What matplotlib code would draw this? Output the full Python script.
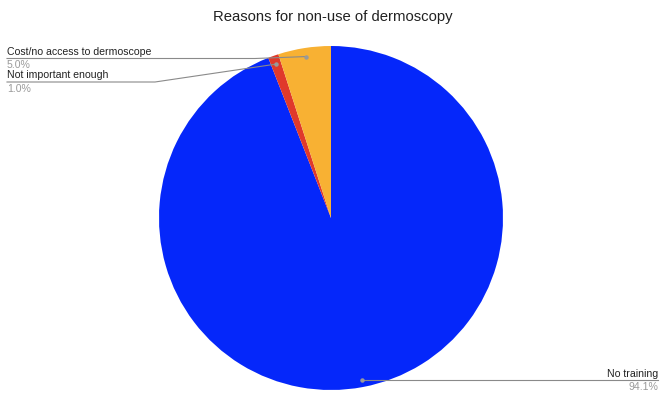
import numpy as np
import matplotlib
matplotlib.use("Agg")
import matplotlib.pyplot as plt

# data (counts -> 94.1 / 1.0 / 5.0 %)
labels = ["No training", "Not important enough", "Cost/no access to dermoscope"]
counts = [95, 1, 5]
colors = ["#0527fa", "#e0392b", "#f8b133"]

W, H = 666, 409
plt.rcParams['font.family'] = ['Liberation Sans', 'DejaVu Sans']

fig = plt.figure(figsize=(W / 100, H / 100), dpi=100)

def fx(x):
    return x / W

def fy(y):
    return 1 - y / H

# pie axes: centre (331, 218), radius 172 px
cx, cy, r = 331, 218, 172
ax = fig.add_axes([fx(cx - r), fy(cy + r), 2 * r / W, 2 * r / H])
wedges, _ = ax.pie(counts, colors=colors, startangle=90, counterclock=False,
                   radius=1, wedgeprops=dict(linewidth=0))
ax.set_xlim(-1, 1)
ax.set_ylim(-1, 1)
ax.set_aspect("equal")
ax.axis("off")

fig.text(0.5, fy(17), "Reasons for non-use of dermoscopy", ha="center", va="center",
         fontsize=10.7, color="#222222")

total = sum(counts)
pcts = [100 * c / total for c in counts]

def anchor(w, rr=0.95):
    ang = np.deg2rad((w.theta1 + w.theta2) / 2)
    p = ax.transData.transform((rr * np.cos(ang), rr * np.sin(ang)))
    return fig.transFigure.inverted().transform(p)

line_kw = dict(color="#8a8a8a", linewidth=0.8, transform=fig.transFigure)
dot_kw = dict(color="#9a9a9a", markersize=2.2, transform=fig.transFigure)

# left labels: (index, line y, elbow x, text y, pct y)
left = [(2, 58.5, 255, 52, 65), (1, 82, 155, 75.5, 88.5)]
for i, ly, ex, ty, py in left:
    ax_, ay_ = anchor(wedges[i])
    fig.add_artist(plt.Line2D([fx(7), fx(ex), ax_], [fy(ly), fy(ly), ay_], **line_kw))
    fig.add_artist(plt.Line2D([ax_], [ay_], marker="o", **dot_kw))
    fig.text(fx(7), fy(ty), labels[i], ha="left", va="center", fontsize=7.6, color="#222222")
    fig.text(fx(7), fy(py), f"{pcts[i]:.1f}%", ha="left", va="center", fontsize=7.6, color="#9a9a9a")

# right label
ax_, ay_ = anchor(wedges[0], 0.96)
fig.add_artist(plt.Line2D([ax_, fx(658)], [ay_, ay_], **line_kw))
fig.add_artist(plt.Line2D([ax_], [ay_], marker="o", **dot_kw))
fig.text(fx(658), ay_ + 6.5 / H, labels[0], ha="right", va="center", fontsize=7.6, color="#222222")
fig.text(fx(658), ay_ - 7 / H, f"{pcts[0]:.1f}%", ha="right", va="center", fontsize=7.6, color="#9a9a9a")

fig.savefig("out.png", dpi=100)
